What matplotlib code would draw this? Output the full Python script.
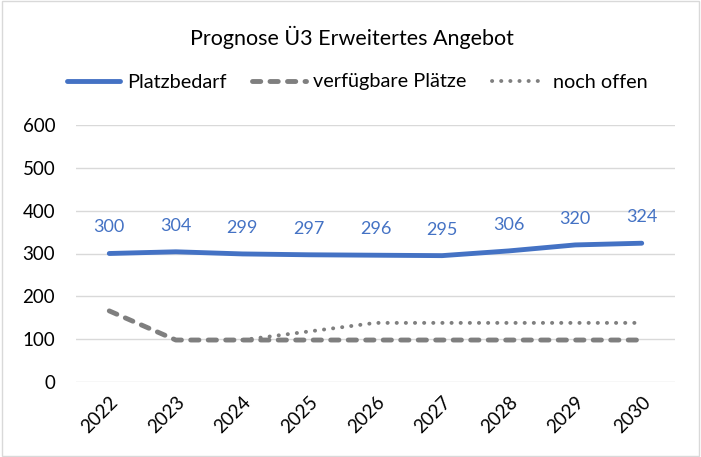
import matplotlib
matplotlib.use("Agg")
import matplotlib.pyplot as plt
from matplotlib.patches import Rectangle

years = ["2022", "2023", "2024", "2025", "2026", "2027", "2028", "2029", "2030"]
platzbedarf = [300, 304, 299, 297, 296, 295, 306, 320, 324]
verfuegbar = [166, 98, 98, 98, 98, 98, 98, 98, 98]
offen_years = ["2024", "2025", "2026", "2027", "2028", "2029", "2030"]
offen = [98, 118, 138, 138, 138, 138, 138]
yticks = [0, 100, 200, 300, 400, 500, 600]

plt.rcParams['font.family'] = ['Lato', 'DejaVu Sans']

fig = plt.figure(figsize=(7.01, 4.57), dpi=100)
ax = fig.add_axes([76/701, 1 - 382/457, (675-76)/701, (382-125)/457])

x = list(range(len(years)))
xo = [years.index(y) for y in offen_years]

ax.plot(xo, offen, color="#7f7f7f", lw=2.8, linestyle=(0, (0.05, 2.3)),
        dash_capstyle="round", label="noch offen", zorder=2)
ax.plot(x, verfuegbar, color="#7f7f7f", lw=3.5, linestyle=(0, (1.7, 1.9)),
        dash_capstyle="round", label="verfügbare Plätze", zorder=3)
ax.plot(x, platzbedarf, color="#4472C4", lw=3.5, solid_capstyle="round",
        label="Platzbedarf", zorder=4)

for xi, v in zip(x, platzbedarf):
    ax.annotate(str(v), (xi, v), xytext=(0, 13), textcoords="offset points",
                ha="center", va="bottom", color="#4472C4", fontsize=13)

ax.set_xlim(-0.5, len(years) - 0.5)
ax.set_ylim(0, 600)
ax.set_yticks(yticks)
ax.set_yticklabels([str(t) for t in yticks], fontsize=13.5)
ax.set_xticks(x)
ax.set_xticklabels(years, fontsize=13.5, rotation=45, ha="right", va="top",
                   rotation_mode="anchor")
ax.tick_params(axis="x", length=0, pad=8)
ax.tick_params(axis="y", length=0, pad=15)
ax.grid(axis="y", color="#d9d9d9", lw=1)
ax.set_axisbelow(True)
for s in ax.spines.values():
    s.set_visible(False)

fig.text(352/701, 1 - 37/457, "Prognose Ü3 Erweitertes Angebot", ha="center",
         va="center", fontsize=15.5)

handles, labels = ax.get_legend_handles_labels()
order = [2, 1, 0]
leg = fig.legend([handles[i] for i in order], [labels[i] for i in order],
                 loc="center", bbox_to_anchor=(357/701, 1 - 82/457), ncol=3,
                 frameon=False, fontsize=14.3, handlelength=2.7,
                 columnspacing=1.3, handletextpad=0.35)

fig.patches.append(Rectangle((0.003, 0.003), 0.994, 0.994, transform=fig.transFigure,
                             fill=False, edgecolor="#d9d9d9", lw=1))

fig.savefig("out.png", dpi=100)
